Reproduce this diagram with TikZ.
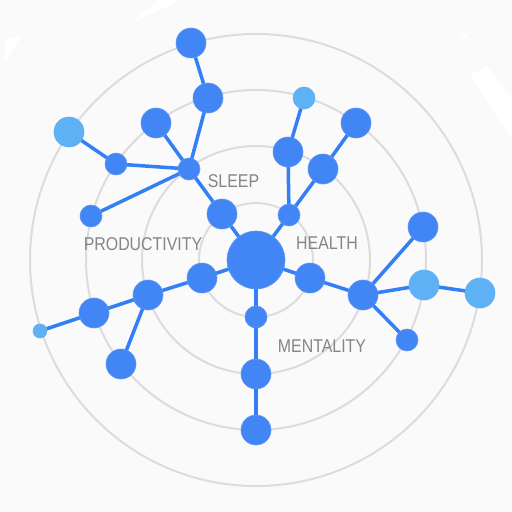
\documentclass[tikz,border=0pt]{standalone}
\usepackage{graphicx}
\usepackage{fontspec}
\setmainfont{Liberation Sans}
\usetikzlibrary{backgrounds}

\definecolor{dotblue}{HTML}{4286F5}
\definecolor{dotlight}{HTML}{5FB1F6}
\definecolor{linkblue}{HTML}{337FF5}
\definecolor{ringgray}{HTML}{DCDCDC}
\definecolor{labelgray}{HTML}{858585}
\definecolor{bggray}{HTML}{FAFAFA}

\tikzset{
  dot/.style={circle, fill=dotblue, draw=dotblue!85!white, line width=0.6pt, inner sep=0pt, minimum size=#1},
  dot/.default=30pt,
  lightdot/.style={dot=#1, fill=dotlight, draw=dotlight},
  lightdot/.default=30pt,
  link/.style={linkblue, line width=3.5pt},
  ring/.style={ringgray, line width=2pt},
  lbl/.style={labelgray, font=\fontsize{18.5}{18.5}\selectfont, inner sep=0pt}
}
\newcommand{\cat}[1]{\scalebox{0.86}[1]{#1}}

\begin{document}
\begin{tikzpicture}[x=1pt, y=-1pt]
\useasboundingbox (0,0) rectangle (512,512);

% centre
\node[dot=58pt] (core) at (256,260) {};

% sleep side
\node[dot] (sa) at (222,214) {};
\node[dot=22pt] (sb) at (189,169) {};
\node[dot] (sc) at (156,123) {};
\node[dot=22pt] (sd) at (116,164) {};
\node[lightdot] (se) at (69,132) {};
\node[dot=22pt] (sf) at (91,216) {};
\node[dot] (sg) at (208,98) {};
\node[dot] (sh) at (191,43) {};

% health side
\node[dot=22pt] (ha) at (289,215) {};
\node[dot] (hb) at (288,152) {};
\node[lightdot=22pt] (hc) at (304,98) {};
\node[dot] (hd) at (323,169) {};
\node[dot] (he) at (356,123) {};

% right
\node[dot] (ma) at (310,278) {};
\node[dot] (mb) at (363,295) {};
\node[dot] (mc) at (423,227) {};
\node[lightdot] (md) at (424,285) {};
\node[lightdot] (me) at (480,293) {};
\node[dot=22pt] (mf) at (407,340) {};

% bottom
\node[dot=22pt] (ba) at (256,317) {};
\node[dot] (bb) at (256,374) {};
\node[dot] (bc) at (256,430) {};

% left
\node[dot] (pa) at (202,278) {};
\node[dot] (pb) at (148,295) {};
\node[dot] (pc) at (94,313) {};
\node[lightdot=14pt] (pd) at (40,331) {};
\node[dot] (pe) at (121,364) {};

\node[lbl] (sleep) at (233.5,181) {\cat{SLEEP}};
\node[lbl] (health) at (327,243.5) {\cat{HEALTH}};
\node[lbl] (prod) at (143,244) {\cat{PRODUCTIVITY}};
\node[lbl] (mental) at (322,346) {\cat{MENTALITY}};

\begin{scope}[on background layer]
\fill[bggray] (0,0) rectangle (512,512);
\fill[white] (5,40) -- (22,35) -- (5,62) -- cycle;
\fill[white] (130,24) -- (158,0) -- (180,0) -- cycle;
\fill[white] (470,75) -- (487,66) -- (512,98) -- (512,140) -- cycle;
\fill[white] (458,33) -- (466,34) -- (471,42) -- cycle;

\foreach \r in {57,114,170,226} {
	\draw[ring] (256,260) circle (\r pt);
}

\foreach \a/\b in {core/sa, sa/sb, sb/sc, sb/sd, sd/se, sb/sf, sb/sg, sg/sh,
                   core/ha, ha/hb, hb/hc, ha/hd, hd/he,
                   core/ma, ma/mb, mb/mc, mb/md, md/me, mb/mf,
                   core/ba, ba/bb, bb/bc,
                   core/pa, pa/pb, pb/pc, pc/pd, pb/pe} {
	\draw[link] (\a.center) -- (\b.center);
}
\end{scope}
\end{tikzpicture}
\end{document}
